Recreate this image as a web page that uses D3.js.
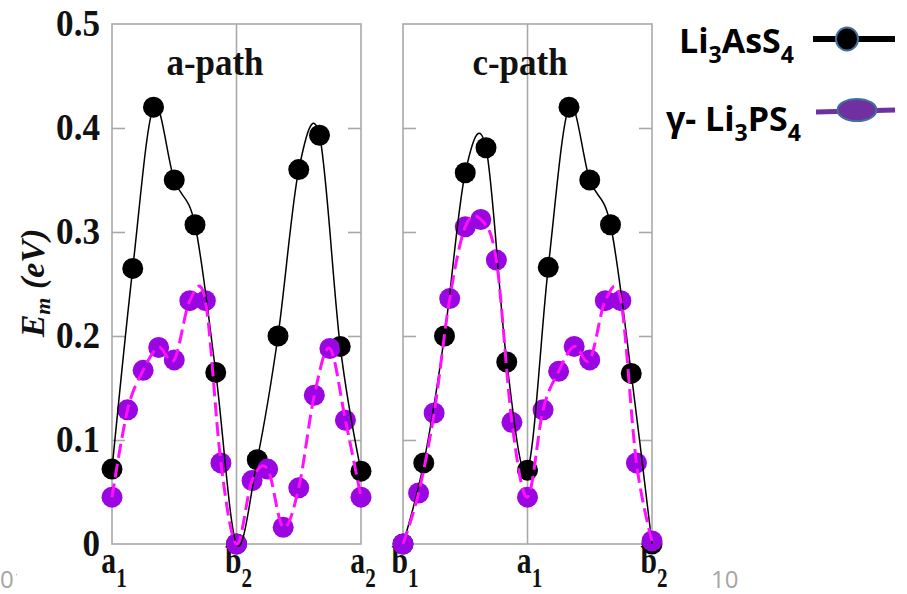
<!DOCTYPE html>
<html>
<head>
<meta charset="utf-8">
<script src="https://cdn.jsdelivr.net/npm/d3@7"></script>
<style>
  body { margin: 0; background: #fff; }
  svg { display: block; }
</style>
</head>
<body>
<div id="chart"></div>
<script>
// Values (migration energy E_m, eV)
const yTickValues = [0, 0.1, 0.2, 0.3, 0.4, 0.5];
const yTickLabels = ['0', '0.1', '0.2', '0.3', '0.4', '0.5'];
const panelTitles = ['a-path', 'c-path'];
const aPathSites = [['a', '1'], ['b', '2'], ['a', '2']];
const cPathSites = [['b', '1'], ['a', '1'], ['b', '2']];

// Li3AsS4: 13 images per panel, gamma-Li3PS4: 17 images per panel
const aPathAs = [0.072, 0.265, 0.42, 0.35, 0.307, 0.165, 0.0, 0.081, 0.2, 0.36, 0.393, 0.19, 0.07];
const aPathP = [0.045, 0.129, 0.167, 0.189, 0.177, 0.234, 0.234, 0.078, 0.0,
                0.061, 0.072, 0.016, 0.054, 0.143, 0.188, 0.119, 0.045];
const cPathAs = [0.0, 0.078, 0.2, 0.357, 0.381, 0.175, 0.071, 0.266, 0.42, 0.35, 0.307, 0.164, 0.0];
const cPathP = [0.0, 0.049, 0.126, 0.236, 0.305, 0.312, 0.273, 0.117, 0.045,
                0.129, 0.166, 0.19, 0.177, 0.234, 0.234, 0.078, 0.003];

const legendAs = [['Li', false], ['3', true], ['AsS', false], ['4', true]];
const legendP = [['γ- Li', false], ['3', true], ['PS', false], ['4', true]];

const W = 907, H = 594;
const serif = 'Liberation Serif, Times New Roman, serif';
const sans = 'Open Sans, sans-serif';

const svg = d3.select('#chart').append('svg')
    .attr('width', W).attr('height', H);

svg.append('rect').attr('width', W).attr('height', H).attr('fill', '#fff');

// slide leftovers behind the pasted chart
svg.append('text').attr('x', 0).attr('y', 588)
    .style('font-family', sans).style('font-size', '24px').attr('fill', '#a6a6a6')
    .text('01');
svg.append('rect').attr('x', 17).attr('y', 0).attr('width', 680).attr('height', H).attr('fill', '#fff');
svg.append('text').attr('x', 711).attr('y', 588)
    .style('font-family', sans).style('font-size', '24px').attr('fill', '#a6a6a6')
    .text('10');

const y = d3.scaleLinear().domain([0, 0.5]).range([544, 24]);

const panels = [
    { x0: 112, x1: 361, title: panelTitles[0], titleX: 215, sites: aPathSites, as: aPathAs, p: aPathP },
    { x0: 403, x1: 652, title: panelTitles[1], titleX: 520, sites: cPathSites, as: cPathAs, p: cPathP }
];

const frameColor = '#a9a9a9';

// squeezed serif text, like the pasted figure
function squeezed(g, x, yy, parts, size, anchor, sx) {
    const t = g.append('g').attr('transform', `translate(${x},${yy}) scale(${sx},1)`)
        .append('text')
        .attr('text-anchor', anchor)
        .style('font-family', serif).style('font-weight', 'bold').style('font-size', size + 'px');
    parts.forEach(p => {
        const ts = t.append('tspan').text(p.text);
        if (p.size) ts.style('font-size', p.size + 'px');
        if (p.dy) ts.attr('dy', p.dy);
    });
    return t;
}

panels.forEach(pn => {
    const x = d3.scaleLinear().domain([0, 2]).range([pn.x0, pn.x1]);
    const g = svg.append('g');

    // frame
    g.append('rect')
        .attr('x', pn.x0).attr('y', y(0.5))
        .attr('width', pn.x1 - pn.x0).attr('height', y(0) - y(0.5))
        .attr('fill', 'none').attr('stroke', frameColor).attr('stroke-width', 1.6);
    g.append('line')
        .attr('x1', x(1)).attr('x2', x(1)).attr('y1', y(0.5)).attr('y2', y(0))
        .attr('stroke', frameColor).attr('stroke-width', 1.6);

    // inner ticks on both sides
    const yAxisL = d3.axisRight(y).tickValues([0.1, 0.2, 0.3, 0.4]).tickSize(13).tickFormat('');
    const yAxisR = d3.axisLeft(y).tickValues([0.1, 0.2, 0.3, 0.4]).tickSize(13).tickFormat('');
    [[yAxisL, pn.x0], [yAxisR, pn.x1]].forEach(([ax, px]) => {
        const a = g.append('g').attr('transform', `translate(${px},0)`).call(ax);
        a.select('.domain').remove();
        a.selectAll('line').attr('stroke', frameColor).attr('stroke-width', 1.6);
    });

    // title
    squeezed(g, pn.titleX, 75, [{ text: pn.title }], 38, 'middle', 0.92)
        .attr('fill', '#111');

    // site labels under the panel
    pn.sites.forEach((s, i) => {
        squeezed(g, x(i) + 2, 573, [
            { text: s[0] },
            { text: s[1], size: 27, dy: 14 }
        ], 38, 'middle', 0.78).attr('fill', '#111');
    });

    const lineGen = d3.line()
        .x(d => x(d.t)).y(d => y(d.v))
        .curve(d3.curveCatmullRom.alpha(0));

    const asPts = pn.as.map((v, i) => ({ t: i / 6, v }));
    const pPts = pn.p.map((v, i) => ({ t: i / 8, v }));

    g.selectAll('.asDot').data(asPts).join('circle')
        .attr('class', 'asDot')
        .attr('cx', d => x(d.t)).attr('cy', d => y(d.v)).attr('r', 10.5)
        .attr('fill', '#000');
    g.selectAll('.pDot').data(pPts).join('circle')
        .attr('class', 'pDot')
        .attr('cx', d => x(d.t)).attr('cy', d => y(d.v)).attr('r', 10.5)
        .attr('fill', '#9a06e2');

    g.append('path').datum(asPts)
        .attr('d', lineGen)
        .attr('fill', 'none').attr('stroke', '#000').attr('stroke-width', 1.5);
    g.append('path').datum(pPts)
        .attr('d', lineGen)
        .attr('fill', 'none').attr('stroke', '#ff10ff').attr('stroke-width', 3)
        .attr('stroke-dasharray', '14,6');
});

// y tick labels
yTickValues.forEach((v, i) => {
    squeezed(svg, 100, y(v) + 12, [{ text: yTickLabels[i] }], 37, 'end', 0.95)
        .attr('fill', '#111');
});

// y axis title, rotated
const yt = svg.append('text')
    .attr('transform', 'translate(44,283) rotate(-90)')
    .attr('text-anchor', 'middle')
    .style('font-family', serif).style('font-weight', 'bold').style('font-style', 'italic')
    .style('font-size', '34px').attr('fill', '#111');
yt.append('tspan').text('E');
yt.append('tspan').text('m').style('font-size', '22px').attr('dy', 6);
yt.append('tspan').text('\u00a0(eV)').attr('dy', -6);

// legend
function legendLabel(parts, xEnd, base) {
    const t = svg.append('text')
        .attr('x', xEnd).attr('y', base).attr('text-anchor', 'end')
        .style('font-family', sans).style('font-weight', 'bold').style('font-size', '34px')
        .attr('fill', '#000');
    let down = false;
    parts.forEach(([txt, sub]) => {
        const ts = t.append('tspan').text(txt);
        if (sub) { ts.style('font-size', '23px'); if (!down) { ts.attr('dy', 10); down = true; } }
        else if (down) { ts.attr('dy', -10); down = false; }
    });
}
legendLabel(legendAs, 794, 53);
legendLabel(legendP, 801, 131);

svg.append('line').attr('x1', 813).attr('x2', 895).attr('y1', 39).attr('y2', 39)
    .attr('stroke', '#000').attr('stroke-width', 6);
svg.append('ellipse').attr('cx', 847).attr('cy', 39).attr('rx', 11).attr('ry', 11.5)
    .attr('fill', '#000').attr('stroke', '#41719c').attr('stroke-width', 2);

svg.append('line').attr('x1', 816).attr('x2', 895).attr('y1', 112).attr('y2', 110)
    .attr('stroke', '#7030a0').attr('stroke-width', 5);
svg.append('ellipse').attr('cx', 857).attr('cy', 110).attr('rx', 19.5).attr('ry', 11)
    .attr('fill', '#7030a0').attr('stroke', '#41719c').attr('stroke-width', 2);
</script>
</body>
</html>
